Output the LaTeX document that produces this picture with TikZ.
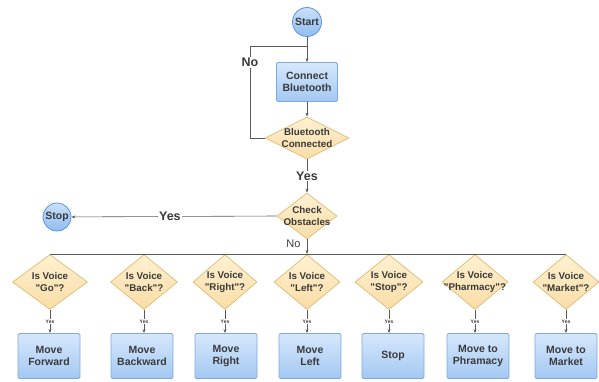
\documentclass[tikz,border=0pt]{standalone}
\usepackage{fontspec}
\setmainfont{Liberation Sans}
\usetikzlibrary{shapes.geometric,arrows.meta}
\definecolor{txt}{HTML}{3A3A3A}
\definecolor{ln}{HTML}{5A5A5A}
\definecolor{boxtop}{HTML}{D6E7FC}
\definecolor{boxbot}{HTML}{A3C8F2}
\definecolor{boxline}{HTML}{7FA9DD}
\definecolor{dtop}{HTML}{FFF1D2}
\definecolor{dbot}{HTML}{F9DDA6}
\definecolor{dline}{HTML}{E3BE7C}
\definecolor{ctop}{HTML}{C9E0FB}
\definecolor{cbot}{HTML}{8FBDF0}
\definecolor{cline}{HTML}{5F93D8}
\newcommand{\dq}{\textquotedbl}
\tikzset{
  procbox/.style={draw=boxline, line width=0.8pt, top color=boxtop, bottom color=boxbot,
    rounded corners=1.5pt, minimum width=62pt, minimum height=45pt, inner sep=0pt,
    align=center, font=\fontsize{10.5}{12.5}\selectfont\bfseries, text=txt},
  decide/.style={shape=diamond, draw=dline, line width=0.8pt, top color=dtop, bottom color=dbot,
    inner sep=0pt, minimum height=55pt},
  dlabel/.style={align=center, font=\fontsize{9.8}{11.8}\selectfont\bfseries, text=txt, inner sep=0pt},
  term/.style={circle, draw=cline, line width=0.8pt, top color=ctop, bottom color=cbot,
    minimum size=29pt, inner sep=0pt, font=\fontsize{10.5}{12}\selectfont\bfseries, text=txt},
  conn/.style={draw=ln, line width=0.6pt},
  arr/.style={conn, -{Stealth[length=4pt,width=3pt]}},
  biglab/.style={font=\fontsize{12.5}{14}\selectfont\bfseries, text=txt, fill=white, inner sep=1pt},
  smalllab/.style={font=\fontsize{5}{6}\selectfont\bfseries, text=txt, fill=white, inner sep=0.5pt},
}
\begin{document}
\begin{tikzpicture}[x=1pt,y=-1pt]
\useasboundingbox (0,0) rectangle (599,381);
% top part
\node[term] (start) at (307,22) {Start};
\node[procbox, minimum width=61pt, minimum height=39pt] (bt) at (307,82) {Connect\\Bluetooth};
\node[decide, minimum width=84pt, minimum height=42pt,
  label={[dlabel]center:Bluetooth\\Connected}] (btc) at (307,138) {};
\coordinate (loopL) at (250,138);
\coordinate (loopT) at (250,46);
\coordinate (joinT) at (307,46);
\draw[arr] (start) -- (bt);
\draw[arr] (bt) -- (btc);
\draw[conn] (btc.west) -- (loopL) -- node[biglab, pos=0.82] (nolab) {No} (loopT) -- (joinT);
\node[decide, minimum width=60pt, minimum height=46pt,
  label={[dlabel]center:Check\\Obstacles}] (chk) at (307,216) {};
\draw[arr] (btc) -- node[biglab] (yeslab) {Yes} (chk);
\node[term, minimum size=28pt] (stop) at (57,217) {Stop};
\draw[arr] (chk.west) -- node[biglab, pos=0.52] (yes2) {Yes} (stop);
\coordinate (bus) at (307,254);
\draw[arr] (chk.south) -- (bus);
\node[font=\fontsize{11}{12}\selectfont, text=txt, anchor=east] (nolab2) at (304,244) {No};
% decisions
\foreach \n/\x/\w/\bx/\t/\b in {
  a/50/75/49/{\dq Go\dq?}/{Move\\Forward},
  b/144/67/142/{\dq Back\dq?}/{Move\\Backward},
  c/225/64/226/{\dq Right\dq?}/{Move\\Right},
  d/307/66/310/{\dq Left\dq?}/{Move\\Left},
  e/389/68/393/{\dq Stop\dq?}/{Stop},
  f/475/66/478/{\dq Pharmacy\dq?}/{Move to\\Phramacy},
  g/566/66/566/{\dq Market\dq?}/{Move to\\Market}}{
  \node[decide, minimum width=\w pt, label={[dlabel]center:Is Voice\\\t}] (q\n) at (\x,282) {};
  \node[procbox] (m\n) at (\bx,356) {\b};
  \draw[arr] (q\n.south) -- node[smalllab] (y\n) {Yes} (q\n.south |- m\n.north);
}
\draw[conn] (qa.north) -- (qg.north);
\end{tikzpicture}
\end{document}
